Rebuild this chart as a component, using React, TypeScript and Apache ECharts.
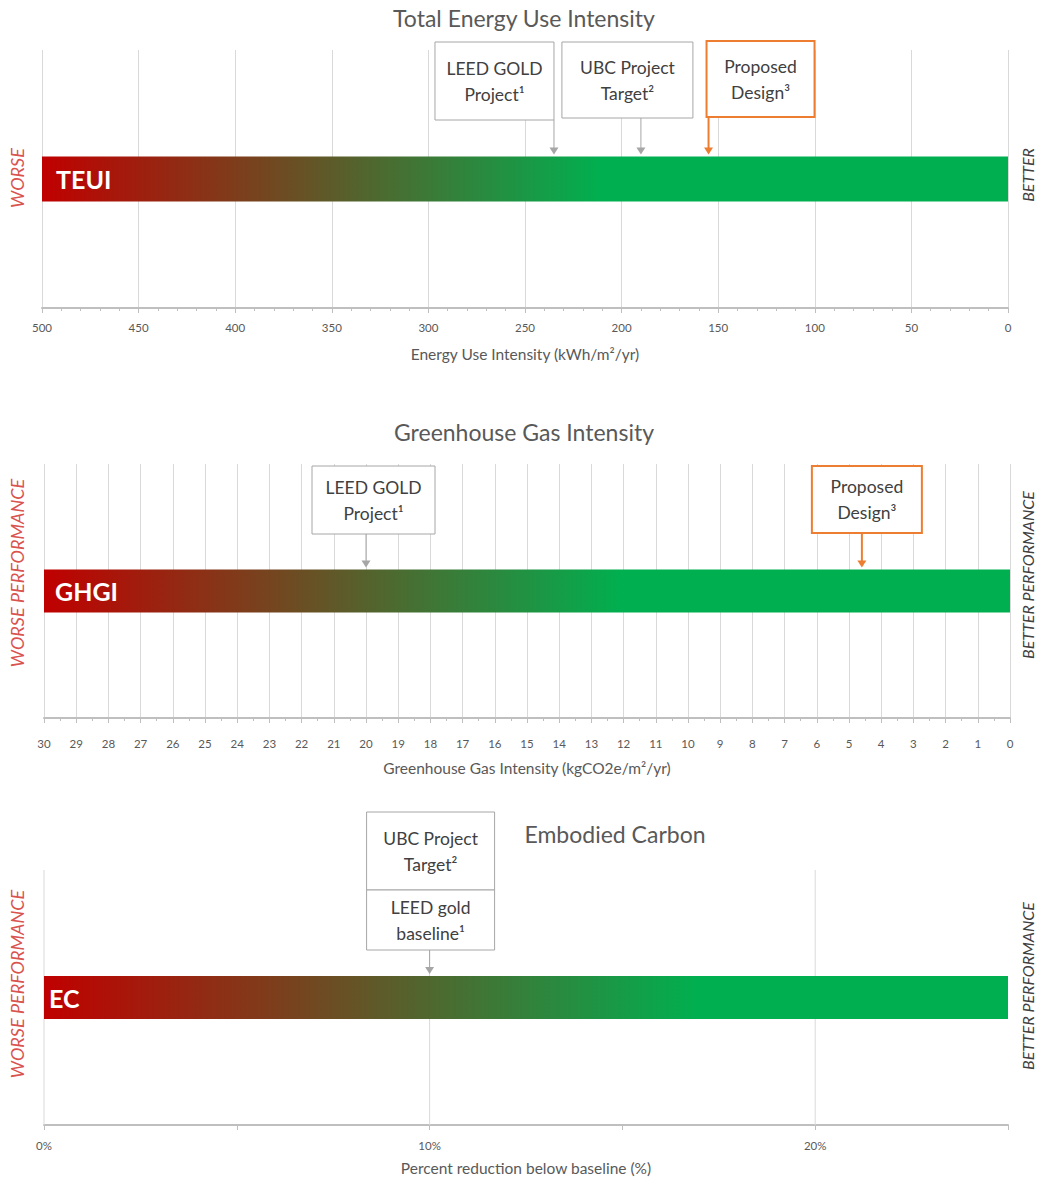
import React, { useEffect, useRef } from 'react';
import * as echarts from 'echarts';

const FONT = 'Lato, "Open Sans", sans-serif';

// ---------- data ----------
const teuiCategory = ['TEUI'];
const teuiRange = [0, 500];
const teuiTickStep = 50;
const teuiMarkerLabels = ['LEED GOLD\nProject¹', 'UBC Project\nTarget²', 'Proposed\nDesign³'];
const teuiMarkerValues = [235, 190, 155];

const ghgiCategory = ['GHGI'];
const ghgiRange = [0, 30];
const ghgiTickStep = 1;
const ghgiMarkerLabels = ['LEED GOLD\nProject¹', 'Proposed\nDesign³'];
const ghgiMarkerValues = [20, 4.6];

const ecCategory = ['EC'];
const ecRange = [0, 25];
const ecTickStep = 5;
const ecLabelStep = 10;
const ecGridValues = [0, 10, 20];
const ecMarkerLabels = ['UBC Project\nTarget²', 'LEED gold\nbaseline¹'];
const ecMarkerValues = [10, 10];

const titles = ['Total Energy Use Intensity', 'Greenhouse Gas Intensity', 'Embodied Carbon'];
const axisNames = [
  'Energy Use Intensity (kWh/m²/yr)',
  'Greenhouse Gas Intensity (kgCO2e/m²/yr)',
  'Percent reduction below baseline (%)',
];

// ---------- layout / style ----------
const GRAY = '#A6A6A6';
const ORANGE = '#ED7D31';
const RED = '#C00000';
const GREEN = '#00B050';
const TXT = '#595959';

const teuiBoxes = [
  { dx: -119, w: 119, top: 42, bottom: 120, color: GRAY, lw: 1, arrow: true },
  { dx: -79, w: 131, top: 42, bottom: 118, color: GRAY, lw: 1, arrow: true },
  { dx: -2, w: 108, top: 41, bottom: 117, color: ORANGE, lw: 2, arrow: true },
];
const ghgiBoxes = [
  { dx: -54, w: 123, top: 466, bottom: 534, color: GRAY, lw: 1, arrow: true },
  { dx: -50, w: 110, top: 466, bottom: 533, color: ORANGE, lw: 2, arrow: true },
];
const ecBoxes = [
  { dx: -63, w: 128, top: 812, bottom: 890, color: GRAY, lw: 1, arrow: false },
  { dx: -63, w: 128, top: 890, bottom: 950, color: GRAY, lw: 1, arrow: true },
];

const barWidths = [45, 43, 43];

function makeMarkerRenderer(labels: string[], boxes: any[], barWidth: number) {
  return (params: any, api: any) => {
    const i = params.dataIndex;
    const b = boxes[i];
    const p = api.coord([api.value(0), api.value(1)]);
    const x = p[0];
    const tip = p[1] - barWidth / 2 - 2;
    const children: any[] = [];
    if (b.arrow) {
      children.push({
        type: 'line',
        shape: { x1: x, y1: b.bottom, x2: x, y2: tip - 6 },
        style: { stroke: b.color, lineWidth: b.lw },
      });
      children.push({
        type: 'polygon',
        shape: { points: [[x - 4.5, tip - 7], [x + 4.5, tip - 7], [x, tip]] },
        style: { fill: b.color },
      });
    }
    children.push({
      type: 'rect',
      shape: { x: x + b.dx, y: b.top, width: b.w, height: b.bottom - b.top },
      style: { fill: '#ffffff', stroke: b.color, lineWidth: b.lw },
    });
    children.push({
      type: 'text',
      x: x + b.dx + b.w / 2,
      y: (b.top + b.bottom) / 2,
      style: {
        text: labels[i],
        align: 'center',
        verticalAlign: 'middle',
        textAlign: 'center',
        textVerticalAlign: 'middle',
        fontSize: 17.5,
        lineHeight: 26,
        fontFamily: FONT,
        fill: '#404040',
      },
    });
    return { type: 'group', children };
  };
}

function gridLineRenderer(params: any, api: any) {
  const x = api.coord([api.value(0), 0])[0];
  const cs = params.coordSys;
  return {
    type: 'line',
    shape: { x1: x, y1: cs.y, x2: x, y2: cs.y + cs.height },
    style: { stroke: '#D9D9D9', lineWidth: 1 },
  };
}

function gradient(stop: number) {
  return new echarts.graphic.LinearGradient(0, 0, 1, 0, [
    { offset: 0, color: RED },
    { offset: stop, color: GREEN },
    { offset: 1, color: GREEN },
  ]);
}

function xAxisBase(
  gridIndex: number,
  range: number[],
  step: number,
  name: string,
  nameGap: number,
  labelMargin: number
) {
  return {
    type: 'value',
    gridIndex,
    min: range[0],
    max: range[1],
    interval: step,
    position: 'bottom',
    name,
    nameLocation: 'middle',
    nameGap,
    nameTextStyle: { fontFamily: FONT, fontSize: 15.5, color: TXT },
    axisLine: { show: true, onZero: false, lineStyle: { color: '#BFBFBF', width: 2 } },
    axisTick: { show: true, length: 5, lineStyle: { color: '#BFBFBF' } },
    axisLabel: { fontFamily: FONT, fontSize: 11.5, color: TXT, margin: labelMargin },
    splitLine: { show: true, lineStyle: { color: '#D9D9D9', width: 1 } },
  };
}

function yAxisBase(gridIndex: number, cats: string[], margin: number) {
  return {
    type: 'category',
    gridIndex,
    data: cats,
    position: 'left',
    z: 5,
    axisLine: { show: false, onZero: false },
    axisTick: { show: false },
    splitLine: { show: false },
    axisLabel: {
      inside: true,
      margin,
      color: '#ffffff',
      fontWeight: 'bold',
      fontSize: 25,
      fontFamily: FONT,
    },
  };
}

function sideText(x: number, y: number, text: string, color: string, size: number) {
  return {
    type: 'text',
    x,
    y,
    rotation: Math.PI / 2,
    style: {
      text,
      fill: color,
      font: 'italic ' + size + 'px ' + FONT,
      align: 'center',
      verticalAlign: 'middle',
      textAlign: 'center',
      textVerticalAlign: 'middle',
    },
  };
}

export default function App() {
  const ref = useRef<HTMLDivElement>(null);
  useEffect(() => {
    if (!ref.current) return;
    const chart = echarts.init(ref.current, null, { renderer: 'svg' });
    const teuiAxis: any = xAxisBase(0, teuiRange, teuiTickStep, axisNames[0], 38, 13);
    teuiAxis.inverse = true;
    teuiAxis.minorTick = { show: true, splitNumber: 5, length: 3, lineStyle: { color: '#BFBFBF' } };
    const ghgiAxis: any = xAxisBase(1, ghgiRange, ghgiTickStep, axisNames[1], 42, 19);
    ghgiAxis.inverse = true;
    ghgiAxis.minorTick = { show: true, splitNumber: 2, length: 3, lineStyle: { color: '#BFBFBF' } };
    const ecAxis: any = xAxisBase(2, ecRange, ecTickStep, axisNames[2], 35, 14);
    ecAxis.splitLine = { show: false };
    ecAxis.axisLabel = {
      ...ecAxis.axisLabel,
      formatter: (v: number) => (v % ecLabelStep === 0 ? v + '%' : ''),
    };

    const option: any = {
      animation: false,
      backgroundColor: '#ffffff',
      textStyle: { fontFamily: FONT },
      title: [
        { text: titles[0], left: 524, top: 6, textAlign: 'center' },
        { text: titles[1], left: 524, top: 420, textAlign: 'center' },
        { text: titles[2], left: 615, top: 822, textAlign: 'center' },
      ].map((t) => ({
        ...t,
        padding: 0,
        textStyle: { fontFamily: FONT, fontSize: 23, fontWeight: 'normal', color: TXT },
      })),
      grid: [
        { left: 42, right: 29, top: 50, height: 258 },
        { left: 44, right: 27, top: 464, height: 254 },
        { left: 44, right: 29, top: 870, height: 255 },
      ],
      xAxis: [teuiAxis, ghgiAxis, ecAxis],
      yAxis: [yAxisBase(0, teuiCategory, 14), yAxisBase(1, ghgiCategory, 11), yAxisBase(2, ecCategory, 5)],
      series: [
        {
          type: 'bar',
          xAxisIndex: 0,
          yAxisIndex: 0,
          barWidth: barWidths[0],
          z: 2,
          data: [teuiRange[1]],
          itemStyle: { color: gradient(0.58) },
        },
        {
          type: 'bar',
          xAxisIndex: 1,
          yAxisIndex: 1,
          barWidth: barWidths[1],
          z: 2,
          data: [ghgiRange[1]],
          itemStyle: { color: gradient(0.6) },
        },
        {
          type: 'bar',
          xAxisIndex: 2,
          yAxisIndex: 2,
          barWidth: barWidths[2],
          z: 2,
          data: [ecRange[1]],
          itemStyle: { color: gradient(0.68) },
        },
        {
          type: 'custom',
          xAxisIndex: 2,
          yAxisIndex: 2,
          z: 1,
          silent: true,
          renderItem: gridLineRenderer,
          encode: { x: 0, y: 1 },
          data: ecGridValues.map((v) => [v, 0]),
        },
        {
          type: 'custom',
          xAxisIndex: 0,
          yAxisIndex: 0,
          z: 4,
          silent: true,
          renderItem: makeMarkerRenderer(teuiMarkerLabels, teuiBoxes, barWidths[0]),
          encode: { x: 0, y: 1 },
          data: teuiMarkerValues.map((v) => [v, 0]),
        },
        {
          type: 'custom',
          xAxisIndex: 1,
          yAxisIndex: 1,
          z: 4,
          silent: true,
          renderItem: makeMarkerRenderer(ghgiMarkerLabels, ghgiBoxes, barWidths[1]),
          encode: { x: 0, y: 1 },
          data: ghgiMarkerValues.map((v) => [v, 0]),
        },
        {
          type: 'custom',
          xAxisIndex: 2,
          yAxisIndex: 2,
          z: 4,
          silent: true,
          renderItem: makeMarkerRenderer(ecMarkerLabels, ecBoxes, barWidths[2]),
          encode: { x: 0, y: 1 },
          data: ecMarkerValues.map((v) => [v, 0]),
        },
      ],
      graphic: [
        sideText(17, 178, 'WORSE', '#D9534F', 18),
        sideText(1027, 175, 'BETTER', '#404040', 16),
        sideText(17, 573, 'WORSE PERFORMANCE', '#D9534F', 18),
        sideText(1027, 575, 'BETTER PERFORMANCE', '#404040', 16),
        sideText(17, 984, 'WORSE PERFORMANCE', '#D9534F', 18),
        sideText(1027, 986, 'BETTER PERFORMANCE', '#404040', 16),
      ],
    };
    chart.setOption(option);
    return () => chart.dispose();
  }, []);
  return (
    <div
      ref={ref}
      style={{ position: 'absolute', left: 0, top: 0, width: 1037, height: 1181, background: '#fff' }}
    />
  );
}
